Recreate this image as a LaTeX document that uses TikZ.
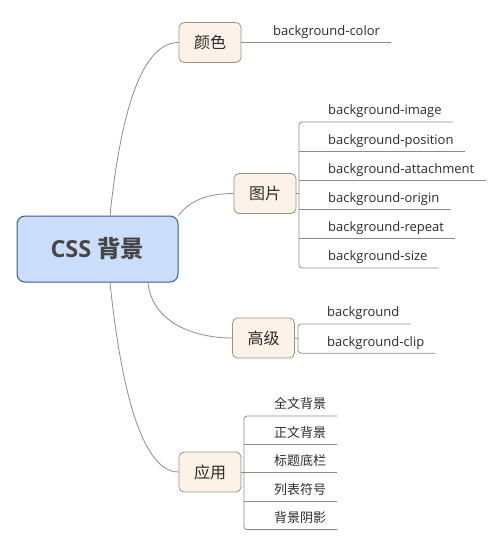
\documentclass[tikz,border=0pt]{standalone}
\usepackage{fontspec}
\setmainfont{Open Sans}
\newfontfamily\cjk{Noto Sans CJK SC}
\usetikzlibrary{positioning}

\definecolor{rootfill}{HTML}{CADDFB}
\definecolor{rootline}{HTML}{3A5A98}
\definecolor{topicfill}{HTML}{FDF2E8}
\definecolor{topicline}{HTML}{A09080}
\definecolor{linegray}{HTML}{8C8C8C}
\definecolor{ink}{HTML}{2B2B2B}

\begin{document}
\begin{tikzpicture}[
    x=1pt, y=-1pt,
    every node/.style={text=ink},
    root/.style={rectangle, draw=rootline, fill=rootfill, rounded corners=8pt, line width=1pt, minimum width=161pt, minimum height=66pt, font=\fontsize{23.5}{28}\selectfont\bfseries, text=black!72},
    topic/.style={rectangle, draw=topicline, fill=topicfill, rounded corners=5pt, line width=0.8pt, minimum width=62pt, minimum height=40pt, font=\fontsize{16}{19}\selectfont\cjk},
    leaf/.style={inner xsep=11pt, inner ysep=0pt, text height=21.8pt, text depth=7pt, font=\fontsize{13}{15}\selectfont},
    wire/.style={draw=linegray, line width=0.8pt}
]
    \useasboundingbox (0,0) rectangle (501,544);

    % main topics
    \node[root] (css) at (97.5,249) {CSS {\cjk 背景}};
    \node[topic] (color) at (210,42.5) {颜色};
    \node[topic] (pic) at (265,193.5) {图片};
    \node[topic] (adv) at (263.5,338) {高级};
    \node[topic] (use) at (210,472) {应用};

    \draw[wire] ([xshift=12.5pt]css.north) .. controls +(10,-96) and +(-39,0) .. (color.west);
    \draw[wire] (css.north east) .. controls +(12,-16) and +(-24,0) .. (pic.west);
    \draw[wire] ([xshift=50.5pt]css.south) .. controls +(4,40) and +(-38,0) .. (adv.west);
    \draw[wire] ([xshift=12.5pt]css.south) .. controls +(10,96) and +(-39,0) .. (use.west);

    % colour
    \node[leaf, anchor=south west] (bgcolor) at (262,42.5) {background-color};
    \draw[wire] (color.east) -- (bgcolor.south east);

    % image
    \coordinate (picbar) at (299,193.5);
    \node[leaf, anchor=south west] (img) at (317,122) {background-image};
    \node[leaf, anchor=north west] (posn) at (img.south west) {background-position};
    \node[leaf, anchor=north west] (attach) at (posn.south west) {background-attachment};
    \node[leaf, anchor=north west] (origin) at (attach.south west) {background-origin};
    \node[leaf, anchor=north west] (repeat) at (origin.south west) {background-repeat};
    \node[leaf, anchor=north west] (size) at (repeat.south west) {background-size};

    \draw[wire] (pic.east) -- (picbar);
    \draw[wire, rounded corners=3pt] (img.south east) -- (img.south -| picbar) -- (size.south -| picbar) -- (size.south east);
    \draw[wire] (posn.south -| picbar) -- (posn.south east);
    \draw[wire] (attach.south -| picbar) -- (attach.south east);
    \draw[wire] (origin.south -| picbar) -- (origin.south east);
    \draw[wire] (repeat.south -| picbar) -- (repeat.south east);

    % advanced
    \coordinate (advbar) at (298,338.5);
    \node[leaf, anchor=south west] (bg) at (316,324) {background};
    \node[leaf, anchor=north west] (clip) at (bg.south west) {background-clip};

    \draw[wire] (adv.east) -- (advbar);
    \draw[wire, rounded corners=3pt] (bg.south east) -- (bg.south -| advbar) -- (clip.south -| advbar) -- (clip.south east);

    % usage
    \coordinate (usebar) at (244,472);
    \node[leaf, font=\fontsize{13}{15}\selectfont\cjk, text height=21pt, anchor=south west] (full) at (263,416) {全文背景};
    \node[leaf, font=\fontsize{13}{15}\selectfont\cjk, text height=21pt, anchor=north west] (body) at (full.south west) {正文背景};
    \node[leaf, font=\fontsize{13}{15}\selectfont\cjk, text height=21pt, anchor=north west] (title) at (body.south west) {标题底栏};
    \node[leaf, font=\fontsize{13}{15}\selectfont\cjk, text height=21pt, anchor=north west] (bullet) at (title.south west) {列表符号};
    \node[leaf, font=\fontsize{13}{15}\selectfont\cjk, text height=21pt, anchor=north west] (shadow) at (bullet.south west) {背景阴影};

    \draw[wire] (use.east) -- (usebar);
    \draw[wire, rounded corners=3pt] (full.south east) -- (full.south -| usebar) -- (shadow.south -| usebar) -- (shadow.south east);
    \draw[wire] (body.south -| usebar) -- (body.south east);
    \draw[wire] (title.south -| usebar) -- (title.south east);
    \draw[wire] (bullet.south -| usebar) -- (bullet.south east);
\end{tikzpicture}
\end{document}
